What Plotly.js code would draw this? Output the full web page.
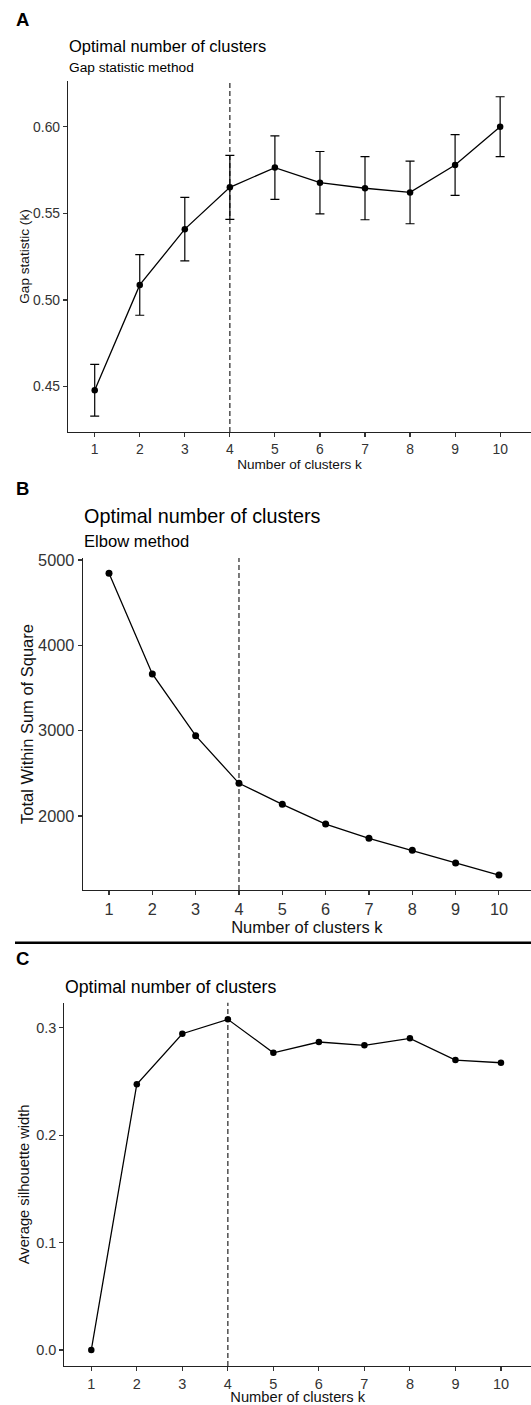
<!DOCTYPE html>
<html>
<head>
<meta charset="utf-8">
<script src="https://cdn.plot.ly/plotly-3.0.1.min.js"></script>
<style>
  html, body { margin: 0; padding: 0; background: #fff; }
  #chart { width: 531px; height: 1405px; }
</style>
</head>
<body>
<div id="chart"></div>
<script>
// ---- Data ----
const k = [1, 2, 3, 4, 5, 6, 7, 8, 9, 10];
const kLabels = ['1', '2', '3', '4', '5', '6', '7', '8', '9', '10'];

// Panel A: Gap statistic
const gapStat = [0.4479, 0.5087, 0.5409, 0.5650, 0.5764, 0.5677, 0.5645, 0.5621, 0.5779, 0.6000];
const gapSE   = [0.0149, 0.0175, 0.0183, 0.0185, 0.0183, 0.0180, 0.0182, 0.0181, 0.0175, 0.0173];
const gapTicks = [0.45, 0.50, 0.55, 0.60];
const gapTickText = ['0.45', '0.50', '0.55', '0.60'];

// Panel B: Elbow (total within sum of squares)
const wss = [4845, 3665, 2941, 2383, 2137, 1906, 1739, 1598, 1449, 1308];
const wssTicks = [2000, 3000, 4000, 5000];
const wssTickText = ['2000', '3000', '4000', '5000'];

// Panel C: Average silhouette width
const silhouette = [0.0, 0.2474, 0.2944, 0.3078, 0.2767, 0.2867, 0.2836, 0.2901, 0.2699, 0.2674];
const silTicks = [0.0, 0.1, 0.2, 0.3];
const silTickText = ['0.0', '0.1', '0.2', '0.3'];

const optimalK = 4;

// ---- Layout helpers ----
const W = 531, H = 1405;
const FONT = 'Liberation Sans, Arial, Helvetica, sans-serif';
const px = x => x / W;
const py = y => 1 - y / H;

function xAxis(domL, range, tickSize, titleSize, anchor, standoff) {
  return {
    domain: [px(domL), 1], range: range, anchor: anchor,
    tickmode: 'array', tickvals: k, ticktext: kLabels,
    showline: true, linecolor: '#222', linewidth: 1.1,
    ticks: 'outside', ticklen: 4, tickwidth: 1.1, tickcolor: '#333',
    showgrid: false, zeroline: false,
    tickfont: {family: FONT, size: tickSize, color: '#333'},
    title: {text: 'Number of clusters k', font: {family: FONT, size: titleSize, color: '#111'}, standoff: standoff},
    automargin: false, fixedrange: true
  };
}
function yAxis(top, bottom, range, tv, tt, tickSize, title, titleSize, anchor, standoff) {
  return {
    domain: [py(bottom), py(top)], range: range, anchor: anchor,
    tickmode: 'array', tickvals: tv, ticktext: tt,
    showline: true, linecolor: '#222', linewidth: 1.1,
    ticks: 'outside', ticklen: 4, tickwidth: 1.1, tickcolor: '#333',
    showgrid: false, zeroline: false,
    tickfont: {family: FONT, size: tickSize, color: '#333'},
    title: {text: title, font: {family: FONT, size: titleSize, color: '#111'}, standoff: standoff},
    automargin: false, fixedrange: true
  };
}

const lineStyle = {color: '#000', width: 1.3};
const markerStyle = {color: '#000', size: 6.5};

const traces = [
  {
    x: k, y: gapStat, xaxis: 'x', yaxis: 'y', type: 'scatter', mode: 'lines+markers',
    line: lineStyle, marker: markerStyle, showlegend: false,
    error_y: {type: 'data', array: gapSE, visible: true, color: '#000', thickness: 1.2, width: 4.5}
  },
  {
    x: k, y: wss, xaxis: 'x2', yaxis: 'y2', type: 'scatter', mode: 'lines+markers',
    line: lineStyle, marker: {color: '#000', size: 7}, showlegend: false
  },
  {
    x: k, y: silhouette, xaxis: 'x3', yaxis: 'y3', type: 'scatter', mode: 'lines+markers',
    line: lineStyle, marker: markerStyle, showlegend: false
  }
];

function vline(xr, yr) {
  return {type: 'line', xref: xr, yref: yr + ' domain', x0: optimalK, x1: optimalK, y0: 0, y1: 1,
          line: {color: '#333', width: 1.3, dash: '5px,3px'}, layer: 'below'};
}

function ann(text, x, y, size, opts) {
  return Object.assign({
    text: text, xref: 'paper', yref: 'paper', x: px(x), y: py(y),
    xanchor: 'left', yanchor: 'middle', showarrow: false,
    font: {family: FONT, size: size, color: '#000'}
  }, opts || {});
}

const layout = {
  width: W, height: H,
  margin: {l: 0, r: 0, t: 0, b: 0, pad: 0},
  paper_bgcolor: '#fff', plot_bgcolor: '#fff',
  showlegend: false,
  xaxis:  xAxis(68,   [0.407, 10.685], 13.9, 13.6, 'y', 0),
  yaxis:  yAxis(81, 432, [0.4238, 0.6264], gapTicks, gapTickText, 13.9, 'Gap statistic (k)', 13.6, 'x', 0),
  xaxis2: xAxis(82.7, [0.393, 10.74], 16.3, 16.5, 'y2', 0),
  yaxis2: yAxis(558, 890, [1133, 5023], wssTicks, wssTickText, 16.3, 'Total Within Sum of Square', 16.5, 'x2', 0),
  xaxis3: xAxis(64.3, [0.407, 10.66], 14.5, 14.7, 'y3', 2),
  yaxis3: yAxis(1002.7, 1366, [-0.0149, 0.3233], silTicks, silTickText, 14.5, 'Average silhouette width', 14.7, 'x3', 3),
  shapes: [
    vline('x', 'y'), vline('x2', 'y2'), vline('x3', 'y3'),
    {type: 'line', xref: 'paper', yref: 'paper', x0: px(15), x1: 1, y0: py(942.8), y1: py(942.8),
     line: {color: '#000', width: 2.6}}
  ],
  annotations: [
    ann('<b>A</b>', 14, 20, 18.5),
    ann('Optimal number of clusters', 67, 46, 16.5),
    ann('Gap statistic method', 67, 67, 13.7),
    ann('<b>B</b>', 14, 488, 18.5),
    ann('Optimal number of clusters', 82, 516, 19.8),
    ann('Elbow method', 82, 542, 16.6),
    ann('<b>C</b>', 14, 958.5, 18.5),
    ann('Optimal number of clusters', 63, 987, 17.7)
  ]
};

Plotly.newPlot('chart', traces, layout, {displayModeBar: false, staticPlot: true});
</script>
</body>
</html>
